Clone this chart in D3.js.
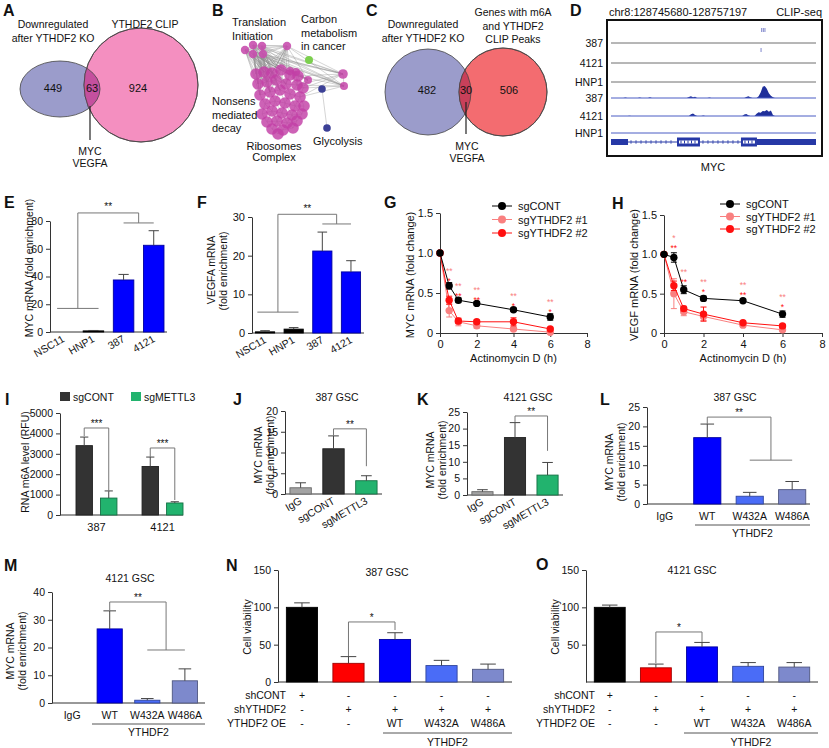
<!DOCTYPE html>
<html>
<head>
<meta charset="utf-8">
<script src="https://cdn.jsdelivr.net/npm/d3@7/dist/d3.min.js"></script>
<style>
  html,body{margin:0;padding:0;background:#fff;}
  svg{display:block;font-family:Arial,"Liberation Sans",Helvetica,sans-serif;}
</style>
</head>
<body>
<svg id="fig" width="829" height="748"></svg>
<script>
// ================= DATA =================
const vennALeftLabel = ["Downregulated", "after YTHDF2 KO"];
const vennARightLabel = ["YTHDF2 CLIP"];
const vennACounts = [449, 63, 924];
const vennCLeftLabel = ["Downregulated", "after YTHDF2 KO"];
const vennCRightLabel = ["Genes with m6A", "and YTHDF2", "CLIP Peaks"];
const vennCCounts = [482, 30, 506];
const sharedGenes = ["MYC", "VEGFA"];

// B network (layout units)
const bTransX = [45, 53, 62, 53, 63, 87];
const bTransY = [50, 45, 46, 54, 54, 46];
const bRiboX = [56,64,72,81,90,98,58,67,76,86,97,103,60,70,80,90,100,65,75,85,95,104,62,72,82,92,102,67,77,87,97,72,83,93,78, 143,144,108,90,96];
const bRiboY = [74,72,73,70,75,76,84,82,80,84,85,88,95,92,90,94,97,104,101,103,106,106,114,111,113,115,114,122,121,123,121,129,130,128,134, 74,86,80,71,72];
const bCarbonX = [109], bCarbonY = [60];
const bGlycX = [122, 127], bGlycY = [89, 128];
const bHubs = [0,1,2,3,4,6,7,8,9,12,13,14,35,36,37];
const bTerms = ["Translation\nInitiation", "Carbon\nmetabolism\nin cancer", "Nonsens\nmediated\ndecay", "Ribosomes\nComplex", "Glycolysis"];

// D CLIP-seq tracks
const dRegion = "chr8:128745680-128757197";
const dRows = ["387", "4121", "HNP1", "387", "4121", "HNP1"];
const dClip387 = [73.5, 74.3, 75.1];
const dClip4121 = [73.2];
const dCov387 = [[0,0],[6,0],[7,0.6],[8,0],[13,0],[14,0.6],[15,0],[18,0],[19,0.8],[20,0],[37,0],[38,1.2],[39,1.8],[40,0.8],[41,1.4],[42,0],[47,0],[48,0.5],[49,0],[65,0],[66,1.2],[67,1.8],[68,0.8],[69,0],[71,0],[72,2],[73,6],[74,12],[75,13],[76,10],[77,5],[78,2.5],[79,0.8],[80,0],[100,0]];
const dCov4121 = [[0,0],[8,0],[9,0.4],[10,0],[38,0],[39,1.8],[40,2.6],[41,1],[42,0],[44,0],[45,0.6],[46,0],[64,0],[65,1.5],[66,2.2],[67,0.8],[68,0],[70,0],[71,2.5],[72,4],[73,3.5],[74,5.5],[75,5],[76,6.5],[77,4.5],[78,6],[79,1],[80,0],[100,0]];
const dGeneStart = [0, 8.3, 32.2, 43.4, 63.4, 71.2];
const dGeneEnd   = [8.3, 32.2, 43.4, 63.4, 71.2, 100];
const dGeneType  = ["utr", "intron", "cds", "intron", "cds", "utr"];

// E / F
const efCats = ["NSC11", "HNP1", "387", "4121"];
const eVals = [0, 0.8, 37.5, 62.5];
const eErrs = [0, 0.3, 4, 10.5];
const fVals = [0.3, 1.0, 21.2, 15.8];
const fErrs = [0.3, 0.4, 4.9, 2.9];

// G / H
const actTimes = [0, 0.5, 1, 2, 4, 6];
const seriesNames = ["sgCONT", "sgYTHDF2 #1", "sgYTHDF2 #2"];
const gCont = [1, 0.59, 0.41, 0.37, 0.29, 0.20];
const gContErr = [0.02, 0.04, 0.03, 0.02, 0.02, 0.04];
const gSg1 = [1, 0.28, 0.14, 0.09, 0.05, 0.01];
const gSg1Err = [0, 0.08, 0.05, 0.03, 0.02, 0.01];
const gSg2 = [1, 0.41, 0.15, 0.14, 0.14, 0.05];
const gSg2Err = [0, 0.05, 0.03, 0.02, 0.05, 0.01];
const gStarsPink = ["**", "**", "**", "**", "**"];
const gStarsRed = ["*", "**", "**", "*", "*"];
const hCont = [1, 0.96, 0.55, 0.44, 0.41, 0.24];
const hContErr = [0.02, 0.06, 0.05, 0.03, 0.02, 0.04];
const hSg1 = [1, 0.50, 0.27, 0.21, 0.10, 0.04];
const hSg1Err = [0, 0.19, 0.05, 0.05, 0.02, 0.02];
const hSg2 = [1, 0.60, 0.31, 0.24, 0.13, 0.09];
const hSg2Err = [0, 0.06, 0.03, 0.09, 0.02, 0.02];
const hStarsPink = ["*", "**", "**", "**", "**"];
const hStarsRed = ["**", "**", "*", "**", "*"];

// I
const iCells = ["387", "4121"];
const iConds = ["sgCONT", "sgMETTL3"];
const iContVals = [3400, 2380];
const iContErrs = [420, 460];
const iMetVals = [830, 590];
const iMetErrs = [350, 60];

// J / K
const jkCats = ["IgG", "sgCONT", "sgMETTL3"];
const jVals = [1.5, 10.9, 3.2];
const jErrs = [1.2, 3.1, 1.2];
const kVals = [1.0, 17.3, 6.0];
const kErrs = [0.6, 4.5, 3.8];

// L / M
const lmCats = ["IgG", "WT", "W432A", "W486A"];
const lVals = [0, 17.1, 2.0, 3.7];
const lErrs = [0, 3.5, 1.0, 2.1];
const mVals = [0, 26.7, 1.0, 8.0];
const mErrs = [0, 6.5, 0.6, 4.3];

// N / O
const noCats = ["c1", "c2", "c3", "c4", "c5"];
const nVals = [100, 25, 57, 22, 17];
const nErrs = [6, 9, 9, 7, 7];
const oVals = [100, 19, 47, 21, 20];
const oErrs = [3, 5, 6, 5, 6];
const rowShCont = ["+", "-", "-", "-", "-"];
const rowShYthdf2 = ["-", "+", "+", "+", "+"];
const rowOE = ["-", "-", "WT", "W432A", "W486A"];
const rowNames = ["shCONT", "shYTHDF2", "YTHDF2 OE"];

// ================= HELPERS =================
const svg = d3.select("#fig");
const defs = svg.append("defs");
const INK = "#111";

function T(x, y, s, o = {}) {
  return svg.append("text").attr("x", x).attr("y", y).text(s)
    .attr("font-size", o.size || 10.5).attr("text-anchor", o.anchor || "start")
    .attr("font-weight", o.weight || "normal").attr("fill", o.fill || INK);
}
function L(x1, y1, x2, y2, o = {}) {
  return svg.append("line").attr("x1", x1).attr("y1", y1).attr("x2", x2).attr("y2", y2)
    .attr("stroke", o.stroke || "#333").attr("stroke-width", o.w || 1);
}
function RT(x, y, s, size = 10.5) {
  return svg.append("text").attr("transform", `translate(${x},${y}) rotate(-90)`)
    .attr("text-anchor", "middle").attr("font-size", size).attr("fill", INK).text(s);
}
function yAxis(x, y, ticks, fmt, size = 10.5) {
  const g = svg.append("g").attr("transform", `translate(${x},0)`)
    .call(d3.axisLeft(y).tickValues(ticks).tickFormat(fmt || d3.format("d")).tickSize(4).tickSizeOuter(0).tickPadding(3));
  g.attr("font-size", size).attr("font-family", null);
  g.selectAll("path,line").attr("stroke", "#333");
  g.selectAll("text").attr("fill", INK);
  return g;
}
function bar(x0, bw, y, v, e, color) {
  if (v > 0) {
    svg.append("rect").attr("x", x0).attr("y", y(v)).attr("width", bw).attr("height", y(0) - y(v))
      .attr("fill", color).attr("stroke", d3.color(color).darker(1.3)).attr("stroke-width", 0.9);
  }
  if (e > 0) {
    const cx = x0 + bw / 2;
    L(cx, y(v), cx, y(v + e), { stroke: "#444" });
    L(cx - bw * 0.25, y(v + e), cx + bw * 0.25, y(v + e), { stroke: "#444" });
  }
}
function barPanel(p) {
  const y = d3.scaleLinear().domain([0, p.max]).range([p.y0, p.y1]);
  const x = d3.scaleBand().domain(p.cats).range([p.x0, p.x1]).paddingInner(p.pi).paddingOuter(p.po);
  yAxis(p.x0, y, p.ticks, null, p.size || 10.5);
  L(p.x0, p.y0, p.x1, p.y0, { stroke: "#333" });
  p.cats.forEach((c, i) => bar(x(c), x.bandwidth(), y, p.vals[i], p.errs[i], p.colors[i]));
  x.c = c => x(c) + x.bandwidth() / 2;
  return { x, y };
}
function rotLabels(x, axisY, cats, size = 10.5) {
  cats.forEach(c => {
    svg.append("text").attr("transform", `translate(${x.c(c) + 2},${axisY + 9}) rotate(-30)`)
      .attr("text-anchor", "end").attr("font-size", size).attr("fill", INK).text(c);
  });
}
function bracket(ys, lx, ly, top, rx, ry, label, lift = 1) {
  const st = { stroke: "#777" };
  const lm = d3.mean(lx), rm = d3.mean(rx);
  if (lx.length > 1) L(lx[0], ys(ly), lx[1], ys(ly), st);
  if (rx.length > 1) L(rx[0], ys(ry), rx[1], ys(ry), st);
  L(lm, ys(ly), lm, ys(top), st);
  L(rm, ys(ry), rm, ys(top), st);
  L(lm, ys(top), rm, ys(top), st);
  T((lm + rm) / 2, ys(top) - lift, label, { anchor: "middle", size: 10 });
}
function letter(x, y, s) { T(x, y, s, { size: 16, weight: "bold" }); }

// ================= PANEL A =================
letter(3, 16, "A");
(function () {
  defs.append("clipPath").attr("id", "clipA").append("circle").attr("cx", 141).attr("cy", 85).attr("r", 57);
  svg.append("ellipse").attr("cx", 60).attr("cy", 89).attr("rx", 40).attr("ry", 28).attr("fill", "#9b9ccb").attr("stroke", "#444").attr("stroke-width", 0.8);
  svg.append("circle").attr("cx", 141).attr("cy", 85).attr("r", 57).attr("fill", "#f48fc0").attr("stroke", "#444").attr("stroke-width", 0.8);
  svg.append("ellipse").attr("cx", 60).attr("cy", 89).attr("rx", 40).attr("ry", 28).attr("fill", "#c4509e").attr("stroke", "#444").attr("stroke-width", 0.8).attr("clip-path", "url(#clipA)");
  svg.append("circle").attr("cx", 141).attr("cy", 85).attr("r", 57).attr("fill", "none").attr("stroke", "#444").attr("stroke-width", 0.8);
  vennALeftLabel.forEach((s, i) => T(53, 28 + i * 14, s, { anchor: "middle" }));
  vennARightLabel.forEach((s, i) => T(145, 28 + i * 14, s, { anchor: "middle" }));
  [53, 92, 138].forEach((x, i) => T(x, 92, vennACounts[i], { anchor: "middle", size: 11 }));
  L(90, 106, 90, 140, { stroke: "#222", w: 1.2 });
  sharedGenes.forEach((s, i) => T(90, 155 + i * 12, s, { anchor: "middle" }));
})();

// ================= PANEL B =================
letter(212, 16, "B");
(function () {
  const bx = d3.scaleLinear().domain([0, 170]).range([200, 370]);
  const by = d3.scaleLinear().domain([0, 190]).range([0, 190]);
  const trans = bTransX.map((x, i) => [bx(x), by(bTransY[i])]);
  const ribo = bRiboX.map((x, i) => [bx(x), by(bRiboY[i])]);
  const eg = svg.append("g").attr("stroke", "#8c8c8c").attr("stroke-width", 0.5).attr("stroke-opacity", 0.75);
  trans.forEach(a => bHubs.forEach(h => {
    const b = ribo[h];
    eg.append("line").attr("x1", a[0]).attr("y1", a[1]).attr("x2", b[0]).attr("y2", b[1]);
  }));
  trans.forEach((a, i) => trans.forEach((b, j) => { if (j > i) eg.append("line").attr("x1", a[0]).attr("y1", a[1]).attr("x2", b[0]).attr("y2", b[1]); }));
  ribo.forEach((a, i) => ribo.forEach((b, j) => {
    if (j > i && Math.hypot(a[0] - b[0], a[1] - b[1]) < 14)
      eg.append("line").attr("x1", a[0]).attr("y1", a[1]).attr("x2", b[0]).attr("y2", b[1]);
  }));
  [5, 10, 11, 16].forEach(i => [35, 36].forEach(j => {
    eg.append("line").attr("x1", ribo[i][0]).attr("y1", ribo[i][1]).attr("x2", ribo[j][0]).attr("y2", ribo[j][1]);
  }));
  const g0 = [bx(bGlycX[0]), by(bGlycY[0])], g1 = [bx(bGlycX[1]), by(bGlycY[1])];
  eg.append("line").attr("x1", g0[0]).attr("y1", g0[1]).attr("x2", g1[0]).attr("y2", g1[1]);
  ribo.forEach((p, i) => svg.append("circle").attr("cx", p[0]).attr("cy", p[1])
    .attr("r", i >= 35 ? (i === 35 ? 4.8 : 4) : 5.8).attr("fill", "#c23fa6").attr("fill-opacity", 0.82));
  trans.forEach(p => svg.append("circle").attr("cx", p[0]).attr("cy", p[1]).attr("r", 4.2).attr("fill", "#c84fae").attr("fill-opacity", 0.9));
  svg.append("circle").attr("cx", bx(bCarbonX[0])).attr("cy", by(bCarbonY[0])).attr("r", 4).attr("fill", "#7ccf4e");
  [g0, g1].forEach(p => svg.append("circle").attr("cx", p[0]).attr("cy", p[1]).attr("r", 3.8).attr("fill", "#3c4096"));
  const pos = [[232, 26, "start"], [301, 23, "start"], [212, 105, "start"], [274, 150, "middle"], [313, 145, "start"]];
  bTerms.forEach((t, i) => t.split("\n").forEach((s, k) =>
    T(pos[i][0], pos[i][1] + k * 13.5 - (i === 3 ? k * 3 : 0), s, { size: 11, anchor: pos[i][2] })));
})();

// ================= PANEL C =================
letter(366, 16, "C");
(function () {
  defs.append("clipPath").attr("id", "clipC").append("circle").attr("cx", 503).attr("cy", 92).attr("r", 44);
  svg.append("circle").attr("cx", 428).attr("cy", 92).attr("r", 43).attr("fill", "#9b9ccb").attr("stroke", "#444").attr("stroke-width", 0.8);
  svg.append("circle").attr("cx", 503).attr("cy", 92).attr("r", 44).attr("fill", "#f36c70").attr("stroke", "#444").attr("stroke-width", 0.8);
  svg.append("circle").attr("cx", 428).attr("cy", 92).attr("r", 43).attr("fill", "#c8405a").attr("stroke", "#444").attr("stroke-width", 0.8).attr("clip-path", "url(#clipC)");
  svg.append("circle").attr("cx", 503).attr("cy", 92).attr("r", 44).attr("fill", "none").attr("stroke", "#444").attr("stroke-width", 0.8);
  vennCLeftLabel.forEach((s, i) => T(423, 28 + i * 14, s, { anchor: "middle" }));
  vennCRightLabel.forEach((s, i) => T(513, 16 + i * 13.5, s, { anchor: "middle" }));
  [427, 466, 509].forEach((x, i) => T(x, 94, vennCCounts[i], { anchor: "middle", size: 11 }));
  L(466, 102, 466, 134, { stroke: "#222", w: 1.2 });
  sharedGenes.forEach((s, i) => T(467, 150 + i * 11.5, s, { anchor: "middle" }));
})();

// ================= PANEL D =================
letter(570, 16, "D");
(function () {
  const dx = d3.scaleLinear().domain([0, 100]).range([611, 816]);
  const dh = d3.scaleLinear().domain([0, 14]).range([0, 13]);
  const rowY = [43, 63, 82, 98, 116, 133];
  T(609, 16, dRegion, { size: 11 });
  T(822, 16, "CLIP-seq", { size: 11, anchor: "end" });
  svg.append("rect").attr("x", 607).attr("y", 20).attr("width", 215).attr("height", 136)
    .attr("fill", "none").attr("stroke", "#111").attr("stroke-width", 2);
  dRows.forEach((r, i) => T(603, rowY[i] + 4, r, { anchor: "end" }));
  [0, 1, 2].forEach(i => L(dx(0), rowY[i], dx(100), rowY[i], { stroke: "#6e6e6e" }));
  dClip387.forEach(p => L(dx(p), 28, dx(p), 32, { stroke: "#7f86cc" }));
  dClip4121.forEach(p => L(dx(p), 48, dx(p), 52, { stroke: "#7f86cc" }));
  [[dCov387, 98], [dCov4121, 116]].forEach(([cov, base]) => {
    svg.append("path").datum(cov).attr("fill", "#1f2f9a")
      .attr("d", d3.area().x(d => dx(d[0])).y0(base).y1(d => base - dh(d[1])));
  });
  [3, 4, 5].forEach(i => L(dx(0), rowY[i], dx(100), rowY[i], { stroke: "#4a5cc4" }));
  const gy = 142, col = "#2638a6";
  dGeneType.forEach((t, i) => {
    const a = dx(dGeneStart[i]), b = dx(dGeneEnd[i]);
    if (t === "intron") {
      L(a, gy, b, gy, { stroke: col });
      for (let x = a + 3; x < b - 1; x += 5) L(x, gy - 1.8, x, gy + 1.8, { stroke: col, w: 0.8 });
    } else if (t === "utr") {
      svg.append("rect").attr("x", a).attr("y", gy - 3).attr("width", b - a).attr("height", 6).attr("fill", col);
    } else {
      svg.append("rect").attr("x", a).attr("y", gy - 4.5).attr("width", b - a).attr("height", 9).attr("fill", col);
      svg.append("rect").attr("x", a + 2).attr("y", gy - 1.5).attr("width", b - a - 4).attr("height", 3).attr("fill", "#fff");
      for (let x = a + 4; x < b - 2; x += 3.5) L(x, gy - 1.5, x, gy + 1.5, { stroke: col, w: 1 });
    }
  });
  T(713, 171, "MYC", { anchor: "middle", size: 11 });
})();

// ================= PANEL E =================
letter(4, 208, "E");
(function () {
  const p = barPanel({ x0: 50, x1: 167, y0: 332, y1: 221, max: 80, ticks: [0, 20, 40, 60, 80],
    cats: efCats, vals: eVals, errs: eErrs, colors: ["#000", "#000", "#0000ff", "#0000ff"], pi: 0.32, po: 0.1, size: 10.5 });
  rotLabels(p.x, 332, efCats, 10.5);
  const bw = p.x.bandwidth();
  bracket(p.y, [p.x("NSC11") + bw * 0.2, p.x("HNP1") + bw * 0.75], 17, 85.8, [p.x.c("387"), p.x.c("4121")], 78.6, "**", 3);
  RT(33, 268, "MYC mRNA (fold enrichment)", 10.5);
})();

// ================= PANEL F =================
letter(197, 208, "F");
(function () {
  const p = barPanel({ x0: 252, x1: 364, y0: 333, y1: 217, max: 30, ticks: [0, 10, 20, 30],
    cats: efCats, vals: fVals, errs: fErrs, colors: ["#000", "#000", "#0000ff", "#0000ff"], pi: 0.33, po: 0.12, size: 11 });
  rotLabels(p.x, 333, efCats, 10.5);
  const bw = p.x.bandwidth();
  bracket(p.y, [p.x("NSC11") + bw * 0.1, p.x("HNP1") + bw * 0.75], 5.4, 30.7, [p.x.c("387"), p.x.c("4121")], 28.2, "**", 2);
  RT(214.5, 270, "VEGFA mRNA", 10.5);
  RT(226.5, 271, "(fold enrichment)", 10.5);
})();

// ================= PANELS G / H =================
function linePanel(o) {
  const x = d3.scaleLinear().domain([0, 8]).range([o.x0, o.x1]);
  const y = d3.scaleLinear().domain([0, 1.5]).range([o.y0, o.y1]);
  yAxis(o.x0, y, [0, 0.5, 1, 1.5], d => d === 0 ? "0" : d3.format(".1f")(d), 11);
  const gx = svg.append("g").attr("transform", `translate(0,${o.y0})`)
    .call(d3.axisBottom(x).tickValues([0, 2, 4, 6, 8]).tickFormat(d3.format("d")).tickSize(4).tickSizeOuter(0).tickPadding(3));
  gx.attr("font-size", 11).attr("font-family", null);
  gx.selectAll("path,line").attr("stroke", "#333");
  gx.selectAll("text").attr("fill", INK);
  T((o.x0 + o.x1) / 2, o.y0 + 29, "Actinomycin D (h)", { anchor: "middle", size: 11 });
  RT(o.x0 - 26.5, 275, o.ytitle, 11);
  const cols = ["#000000", "#f98080", "#ff1010"];
  const vals = [o.cont, o.sg1, o.sg2], errs = [o.contE, o.sg1E, o.sg2E];
  [1, 2, 0].forEach(s => {
    const c = cols[s];
    svg.append("path").datum(actTimes).attr("fill", "none").attr("stroke", c).attr("stroke-width", 1)
      .attr("d", d3.line().x(t => x(t)).y((t, i) => y(vals[s][i])));
    actTimes.forEach((t, i) => {
      const v = vals[s][i], e = errs[s][i];
      if (e > 0) {
        L(x(t), y(v - e), x(t), y(v + e), { stroke: c });
        L(x(t) - 3, y(v + e), x(t) + 3, y(v + e), { stroke: c });
        L(x(t) - 3, y(v - e), x(t) + 3, y(v - e), { stroke: c });
      }
      svg.append("circle").attr("cx", x(t)).attr("cy", y(v)).attr("r", 3.7).attr("fill", c);
    });
  });
  // significance stars: red row just above the sgCONT point, pink row above it
  actTimes.slice(1).forEach((t, k) => {
    const i = k + 1, base = o.cont[i] + o.contE[i];
    const yr = y(base + o.offR) + 5;
    T(x(t), yr, o.starsR[k], { anchor: "middle", size: 8.5, fill: "#ff1010" });
    T(x(t), yr - 10, o.starsP[k], { anchor: "middle", size: 8.5, fill: "#f98080" });
  });
  seriesNames.forEach((s, i) => {
    const ly = o.legY + i * o.legStep;
    L(o.legX - 10, ly, o.legX + 10, ly, { stroke: cols[i] });
    svg.append("circle").attr("cx", o.legX).attr("cy", ly).attr("r", 4).attr("fill", cols[i]);
    T(o.legX + 16, ly + 4, s, { size: 11 });
  });
}
letter(384, 208, "G");
linePanel({ x0: 440, x1: 587, y0: 333, y1: 213, ytitle: "MYC mRNA (fold change)",
  cont: gCont, contE: gContErr, sg1: gSg1, sg1E: gSg1Err, sg2: gSg2, sg2E: gSg2Err,
  starsP: gStarsPink, starsR: gStarsRed, offR: 0.05, legX: 502, legY: 206, legStep: 13.5 });
letter(612, 209, "H");
linePanel({ x0: 664, x1: 822, y0: 333, y1: 215, ytitle: "VEGF mRNA (fold change)",
  cont: hCont, contE: hContErr, sg1: hSg1, sg1E: hSg1Err, sg2: hSg2, sg2E: hSg2Err,
  starsP: hStarsPink, starsR: hStarsRed, offR: 0.08, legX: 730, legY: 204, legStep: 12.5 });

// ================= PANEL I =================
letter(5, 405, "I");
(function () {
  const y = d3.scaleLinear().domain([0, 5000]).range([515, 413]);
  const x0 = d3.scaleBand().domain(iCells).range([76, 183]).paddingInner(0.38).paddingOuter(0);
  const x1 = d3.scaleBand().domain(iConds).range([0, x0.bandwidth()]).paddingInner(0.33);
  yAxis(60, y, [0, 1000, 2000, 3000, 4000, 5000], null, 10.5);
  L(60, 515, 183, 515, { stroke: "#333" });
  const cols = ["#333333", "#22b36e"];
  iCells.forEach((c, i) => {
    bar(x0(c) + x1("sgCONT"), x1.bandwidth(), y, iContVals[i], iContErrs[i], cols[0]);
    bar(x0(c) + x1("sgMETTL3"), x1.bandwidth(), y, iMetVals[i], iMetErrs[i], cols[1]);
    T(x0(c) + x0.bandwidth() / 2, 531, c, { anchor: "middle", size: 11 });
  });
  const cx = (c, k) => x0(c) + x1(k) + x1.bandwidth() / 2;
  bracket(y, [cx("387", "sgCONT")], 3870, 4265, [cx("387", "sgMETTL3")], 1130, "***");
  bracket(y, [cx("4121", "sgCONT")], 2840, 3285, [cx("4121", "sgMETTL3")], 735, "***");
  RT(28.5, 462, "RNA m6A level (RFU)", 10.5);
  iConds.forEach((k, i) => {
    const lx = [60, 131][i];
    svg.append("rect").attr("x", lx).attr("y", 392).attr("width", 10).attr("height", 9).attr("fill", cols[i]);
    T(lx + 13, 401, k, { size: 10.5 });
  });
})();

// ================= PANEL J / K =================
function jkPanel(o) {
  const p = barPanel({ x0: o.x0, x1: o.x1, y0: o.y0, y1: o.y1, max: o.max, ticks: o.ticks,
    cats: jkCats, vals: o.vals, errs: o.errs, colors: ["#a3a3a3", "#333333", "#22b36e"], pi: 0.35, po: 0.15 });
  rotLabels(p.x, o.y0, jkCats, 10.5);
  bracket(p.y, [p.x.c("sgCONT")], o.bL, o.bT, [p.x.c("sgMETTL3")], o.bR, "**");
  RT(o.tx, o.ty, "MYC mRNA", 10.5);
  RT(o.tx + 12, o.ty, "(fold enrichment)", 10.5);
  T(o.titleX, 401, o.title, { anchor: "middle", size: 10.5 });
}
letter(233, 405, "J");
jkPanel({ x0: 285, x1: 382, y0: 494, y1: 411, max: 20, ticks: [0, 5, 10, 15, 20], vals: jVals, errs: jErrs,
  bL: 14, bT: 15.7, bR: 6.7, tx: 261.5, ty: 455, title: "387 GSC", titleX: 337 });
letter(417, 405, "K");
jkPanel({ x0: 467, x1: 563, y0: 495, y1: 412, max: 25, ticks: [0, 5, 10, 15, 20, 25], vals: kVals, errs: kErrs,
  bL: 22, bT: 23.8, bR: 13.3, tx: 433.5, ty: 460, title: "4121 GSC", titleX: 528 });

// ================= PANEL L / M =================
function lmPanel(o) {
  const p = barPanel({ x0: o.x0, x1: o.x1, y0: o.y0, y1: o.y1, max: o.max, ticks: o.ticks,
    cats: lmCats, vals: o.vals, errs: o.errs, colors: ["#0000ff", "#0000ff", "#4a6cf7", "#7d89cc"], pi: o.pi, po: o.po });
  lmCats.forEach(c => T(p.x.c(c), o.y0 + 16, c, { anchor: "middle", size: 10.5 }));
  bracket(p.y, [p.x.c("WT")], o.bL, o.bT, [p.x.c("W432A"), p.x.c("W486A")], o.bR, "**");
  L(o.ulX0, o.y0 + 21, o.x1, o.y0 + 21, { stroke: "#555" });
  T((o.ulX0 + o.x1) / 2, o.y0 + 33, "YTHDF2", { anchor: "middle", size: 10.5 });
  RT(o.tx, o.ty, "MYC mRNA", 10.5);
  RT(o.tx + 12, o.ty, "(fold enrichment)", 10.5);
  T(o.titleX, o.titleY, o.title, { anchor: "middle", size: 10.5 });
}
letter(600, 405, "L");
lmPanel({ x0: 647, x1: 810, y0: 504, y1: 407, max: 25, ticks: [0, 5, 10, 15, 20, 25], vals: lVals, errs: lErrs,
  pi: 0.36, po: 0.1, bL: 20.6, bT: 22.4, bR: 11.3, ulX0: 695, tx: 612.5, ty: 462, title: "387 GSC", titleX: 735, titleY: 401 });
letter(4, 571, "M");
lmPanel({ x0: 52, x1: 205, y0: 703, y1: 592, max: 40, ticks: [0, 10, 20, 30, 40], vals: mVals, errs: mErrs,
  pi: 0.33, po: 0.2, bL: 33.2, bT: 36.4, bR: 19.1, ulX0: 92, tx: 13.5, ty: 651, title: "4121 GSC", titleX: 130, titleY: 582 });

// ================= PANEL N / O =================
function noPanel(o) {
  const p = barPanel({ x0: o.x0, x1: o.x1, y0: 682, y1: 570, max: 150, ticks: o.ticks,
    cats: noCats, vals: o.vals, errs: o.errs, colors: ["#000000", "#ff0000", "#0000ff", "#4a6cf7", "#7d89cc"], pi: 0.33, po: 0.18 });
  bracket(p.y, [p.x.c("c2")], o.bL, o.bT, [p.x.c("c3")], o.bR, "*");
  const rows = [rowShCont, rowShYthdf2, rowOE];
  rows.forEach((r, k) => {
    const yy = 699 + k * 13.5 + (k === 2 ? 1 : 0);
    T(o.labX, yy, rowNames[k], { anchor: "end", size: 10.5 });
    r.forEach((s, i) => T(p.x.c(noCats[i]), yy, s, { anchor: "middle", size: 10.5 }));
  });
  L(o.ulX0, 733, o.x1, 733, { stroke: "#555" });
  T((o.ulX0 + o.x1) / 2, 746, "YTHDF2", { anchor: "middle", size: 10.5 });
  RT(o.x0 - 27.5, 627, "Cell viability", 10.5);
  T(o.titleX, o.titleY, o.title, { anchor: "middle", size: 10.5 });
}
letter(226, 571, "N");
noPanel({ x0: 278, x1: 512, ticks: [0, 50, 100, 150], vals: nVals, errs: nErrs, bL: 34.8, bT: 80.4, bR: 69.6,
  labX: 286, ulX0: 383, title: "387 GSC", titleX: 387, titleY: 576 });
letter(536, 570, "O");
noPanel({ x0: 586, x1: 818, ticks: [50, 100, 150], vals: oVals, errs: oErrs, bL: 25.4, bT: 67, bR: 53.6,
  labX: 595, ulX0: 684, title: "4121 GSC", titleX: 692, titleY: 574 });
</script>
</body>
</html>
